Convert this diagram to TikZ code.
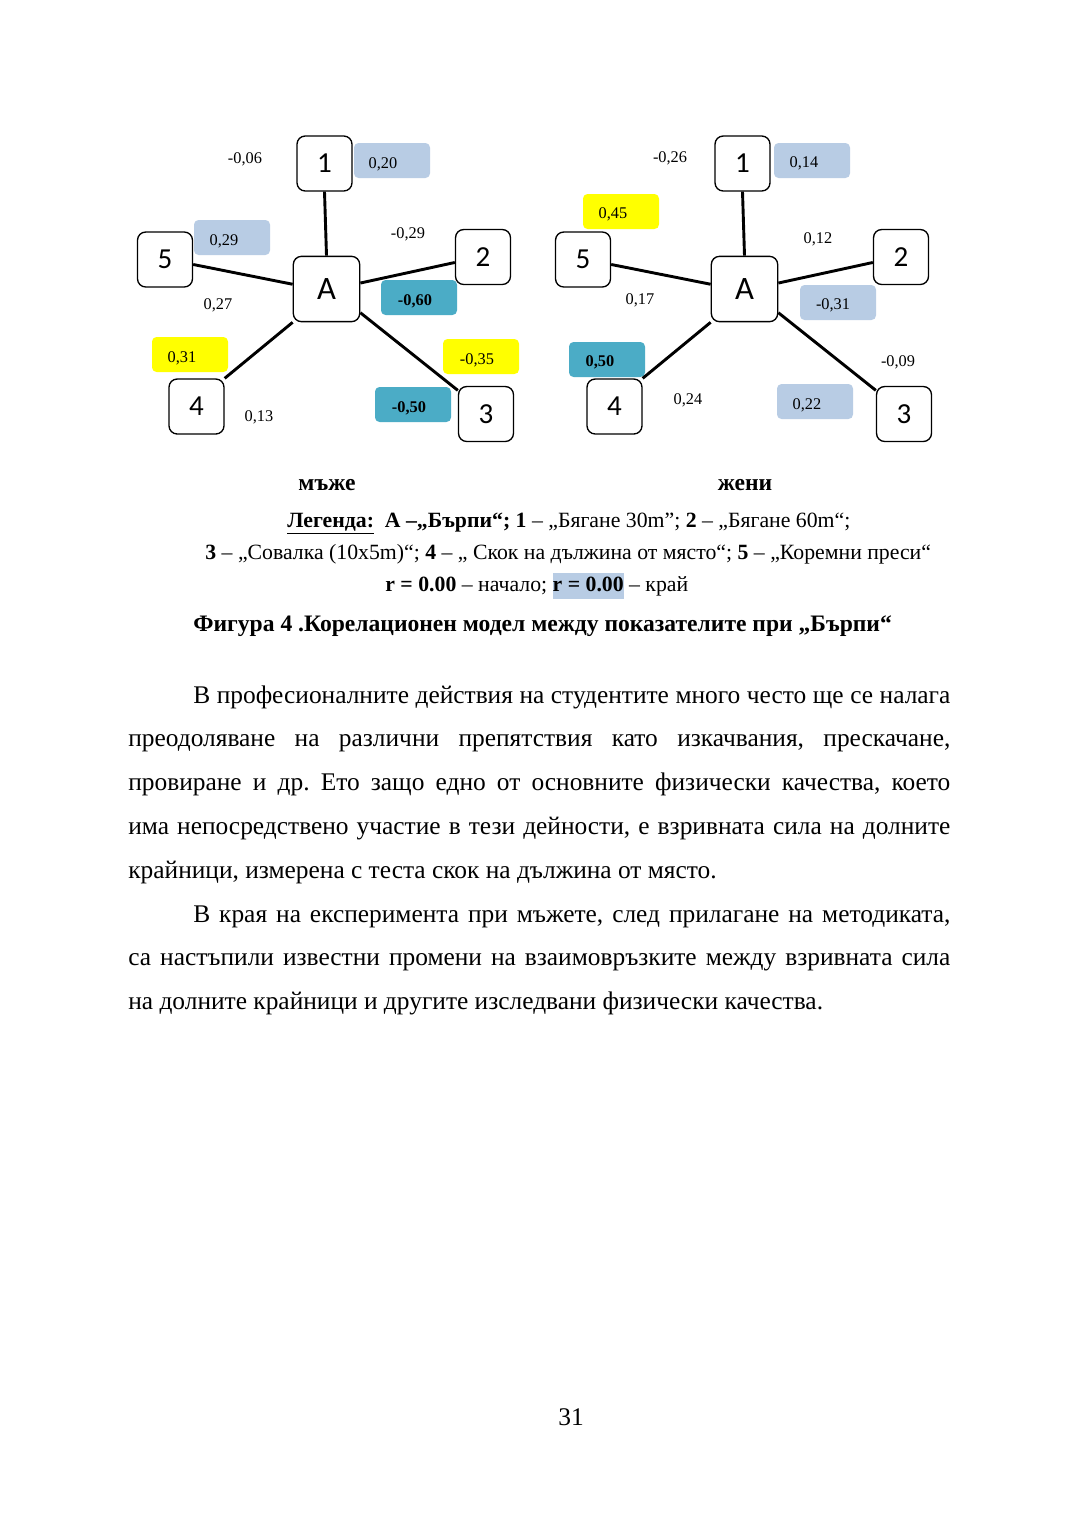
\documentclass[tikz,border=0pt]{standalone}
\usepackage{fontspec}
\setmainfont{Liberation Serif}
\newfontfamily\boxfont{Carlito}
\definecolor{paleblue}{RGB}{184,204,228}
\definecolor{seablue}{RGB}{75,172,198}
\definecolor{hiyellow}{RGB}{255,255,0}
\tikzset{
  varbox/.style={draw, line width=0.75pt, rounded corners=4.5pt, minimum width=30.3pt,
    minimum height=30.3pt, inner sep=0pt, font=\boxfont\fontsize{16}{16}\selectfont},
  mainbox/.style={varbox, minimum width=36.6pt, minimum height=36pt,
    font=\boxfont\fontsize{18}{18}\selectfont},
  link/.style={line width=1.6pt},
  coef/.style={font=\fontsize{9}{10}\selectfont, inner sep=0pt, text depth=0pt},
  tagfill/.style={rounded corners=2.5pt},
  capt/.style={font=\fontsize{12}{14}\selectfont, anchor=base west, inner sep=0pt},
}
\frenchspacing
\begin{document}
\begin{tikzpicture}[x=0.5512pt, y=-0.5512pt]
    \useasboundingbox (0,0) rectangle (1080,1527);
    \fill[white] (0,0) rectangle (1080,1527);

    % coloured fields behind the coefficients
    \foreach \x/\y/\c in {354/143/paleblue, 194/220/paleblue, 381/280/seablue,
        152/337/hiyellow, 443/339/hiyellow, 375/387/seablue, 774/143/paleblue,
        583/194/hiyellow, 800/285/paleblue, 569/342/seablue, 777/384/paleblue}
        \fill[tagfill, \c] (\x,\y) rectangle ++(76,35);

    % the two star models: m = men, z = women
    \foreach \s/\dx in {m/0, z/418} {
        \node[mainbox] (A\s) at (326.5+\dx,289) {A};
        \node[varbox] (\s1) at (324.5+\dx,163.5) {1};
        \node[varbox] (\s2) at (483+\dx,257) {2};
        \node[varbox] (\s3) at (486+\dx,414) {3};
        \node[varbox] (\s4) at (196.5+\dx,406.5) {4};
        \node[varbox] (\s5) at (165+\dx,259.5) {5};
        \draw[link] (A\s.north) -- (\s1.south);
        \draw[link] (A\s.10) -- (\s2.-169);
        \draw[link] (A\s.-35) -- (\s3.140);
        \draw[link] (A\s.south west) -- (\s4.north east);
        \draw[link] (A\s.172) -- (\s5.-10);
    }

    % coefficients
    \foreach \n/\x/\y/\t in {m15s/245/158/{-0,06}, m1e/383/163/{0,20}, m23s/408/233/{-0,29},
        m5e/224/240/{0,29}, m45s/218/304/{0,27}, m2e/415/300/{\textbf{-0,60}},
        m4e/182/357.5/{0,31}, m3s/477/359/{-0,35}, m3e/409/407/{\textbf{-0,50}},
        m34s/259/416/{0,13},
        z15s/670/157/{-0,26}, z1e/804/162/{0,14}, z5e/613/213/{0,45},
        z23s/818/238/{0,12}, z45s/640/299/{0,17}, z2e/833/304/{-0,31},
        z4e/600/361/{\textbf{0,50}}, z3s/898/361/{-0,09}, z34s/688/399/{0,24},
        z3e/807/404/{0,22}}
        \node[coef] (\n) at (\x,\y) {\t};

    \node[font=\bfseries\fontsize{13}{15}\selectfont, anchor=base] (men) at (327,490) {мъже};
    \node[font=\bfseries\fontsize{13}{15}\selectfont, anchor=base] (women) at (745,490) {жени};

    % legend and caption
    \node[capt] (leg1) at (287,527) {\textbf{\underline{Легенда:}}\ \ \textbf{А –„Бърпи“; 1} – „Бягане 30m"; \textbf{2} – „Бягане 60m“;};
    \node[capt] (leg2) at (205,559) {\textbf{3} – „Совалка (10x5m)“; \textbf{4} – „ Скок на дължина от място“; \textbf{5} – „Коремни преси“};
    \node[capt] (leg3) at (385,591) {\textbf{r = 0.00} – начало; {\fboxsep=0pt\colorbox{paleblue}{\strut\textbf{r = 0.00}}} – край};
    \node[capt, font=\bfseries\fontsize{13}{15}\selectfont] (fig) at (193,631)
        {Фигура 4 .Корелационен модел между показателите при „Бърпи“};

    % running text
    \node[anchor=base west, inner sep=0pt, text width=453.1pt, align=justify,
        font=\fontsize{14}{24.15}\selectfont] (body) at (128,703)
        {\hspace*{35.8pt}В професионалните действия на студентите много често ще се налага\linebreak
        преодоляване на различни препятствия като изкачвания, прескачане,\linebreak
        провиране и др. Ето защо едно от основните физически качества, което\linebreak
        има непосредствено участие в тези дейности, е взривната сила на долните\linebreak
        крайници, измерена с теста скок на дължина от място.\par
        \hspace*{35.8pt}В края на експеримента при мъжете, след прилагане на методиката,\linebreak
        са настъпили известни промени на взаимовръзките между взривната сила\linebreak
        на долните крайници и другите изследвани физически качества.};

    \node[font=\fontsize{14}{16}\selectfont, anchor=base] (pagenum) at (571,1425) {31};
\end{tikzpicture}
\end{document}
